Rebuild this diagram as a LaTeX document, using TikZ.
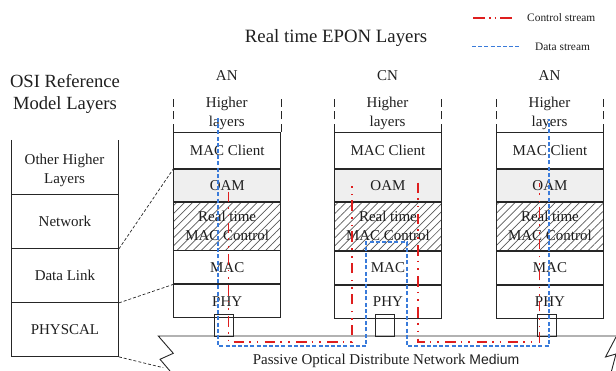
\documentclass[tikz,border=0pt]{standalone}
\usepackage{fontspec}
\setmainfont{Liberation Serif}
\newfontfamily\sansf{Liberation Sans}
\usetikzlibrary{patterns.meta}
\definecolor{ln}{HTML}{262626}
\definecolor{ctrl}{HTML}{DE1E1E}
\definecolor{datac}{HTML}{3A7BDA}
\definecolor{oamc}{HTML}{EFEFEF}
\tikzset{
  txt/.style={font=\fontsize{15}{19}\selectfont, text=black!88, align=center, inner sep=0pt},
  lay/.style={txt, draw=ln, line width=0.9pt, minimum width=107pt, anchor=north west},
  hatch/.style={pattern={Lines[angle=45,distance=5.7pt,line width=0.7pt]}, pattern color=black!65},
  hl/.style={draw=ln, line width=0.9pt, dash pattern=on 8pt off 4.5pt},
  link/.style={draw=ln, line width=0.7pt, dash pattern=on 3pt off 2pt},
  ctrlline/.style={draw=ctrl, line width=1.6pt, dash pattern=on 10.5pt off 5pt on 1.6pt off 6pt on 1.6pt off 6.5pt},
  dataline/.style={draw=datac, line width=1.8pt, dash pattern=on 4pt off 2.2pt},
  medium/.style={draw=ln, line width=0.9pt}
}
\newcommand\epstack[3]{%
  \node[lay, minimum height=36pt] (#1mc) at (#2,132) {MAC Client};
  \node[lay, minimum height=32pt, fill=oamc] (#1oam) at (#1mc.south west) {OAM};
  \node[lay, minimum height=48pt, hatch] (#1rt) at (#1oam.south west) {Real time\\MAC Control};
  \node[lay, minimum height=33pt] (#1mac) at (#1rt.south west) {MAC};
  \node[lay, minimum height=33pt] (#1phy) at (#1mac.south west) {PHY};
  \node[draw=ln, line width=0.9pt, minimum width=19pt, minimum height=22pt, inner sep=0pt, anchor=north west] (#1con) at ({#2+40.5},314) {};
  \node[txt] (#1hd) at ({#2+53.5},76) {#3};
  \node[txt] (#1hl) at ({#2+53.5},113) {Higher\\layers};
  \draw[hl] (#1mc.north west) -- ++(0,-34.5);
  \draw[hl] (#1mc.north east) -- ++(0,-34.5);
}
\begin{document}
\begin{tikzpicture}[x=1pt,y=-1pt]
\useasboundingbox (0,0) rectangle (616,371);
% titles
\node[txt, font=\fontsize{18.6}{22}\selectfont] (osititle) at (65,94) {OSI Reference\\Model Layers};
\node[txt, font=\fontsize{18.8}{22}\selectfont] (eptitle) at (336,38) {Real time EPON Layers};
% legend
\coordinate (lc1) at (473,18.3); \coordinate (lc2) at (515,18.3);
\coordinate (ld1) at (472,46.7); \coordinate (ld2) at (519,46.7);
\draw[ctrlline, dash pattern=on 12pt off 4pt on 1.6pt off 4pt on 1.6pt off 4pt] (lc1) -- (lc2);
\draw[dataline, line width=1.6pt] (ld1) -- (ld2);
\node[txt, font=\fontsize{11.4}{13}\selectfont, anchor=west] (lct) at (527,17.5) {Control stream};
\node[txt, font=\fontsize{11.4}{13}\selectfont, anchor=west] (ldt) at (535,46.5) {Data stream};
% OSI stack
\node[lay, draw=none, minimum height=54pt] (osioth) at (11,140) {};
\node[txt] (osiothT) at (64.5,170) {Other Higher\\Layers};
\node[lay, minimum height=54pt] (osinet) at (11,194) {Network};
\node[lay, minimum height=54pt] (osidl) at (11,248) {Data Link};
\node[lay, minimum height=54pt] (osiphy) at (11,302) {PHYSCAL};
\draw[draw=ln, line width=0.9pt] (osioth.north west) -- (osioth.south west) -- (osioth.south east) -- (osioth.north east);
% EPON stacks
\epstack{a}{173.3}{AN}
\epstack{c}{334}{CN}
\epstack{b}{496}{AN}
% OSI to EPON links
\coordinate (lk3) at (163.3,367.7);
\draw[link] (osinet.south east) -- (aoam.north west);
\draw[link] (osidl.south east) -- (aphy.north west);
\draw[link] (osiphy.south east) -- (lk3);
% medium
\draw[medium] (170,371) -- (160,359.3) -- (173.3,353.3) -- (158.3,336) -- (616,336);
\draw[medium] (616,337) -- (605.5,357) -- (616,354);
\draw[medium] (616,354) -- (611.5,371);
\node[txt] (medlbl) at (386,361) {Passive Optical Distribute Network {\sansf\fontsize{14}{16}\selectfont Medium}};
% streams
\draw[ctrlline] (228.3,191.7) -- (228.3,342.3) -- (351.7,342.3) -- (351.7,182.7);
\draw[ctrlline] (417.7,182.7) -- (417.7,342.3) -- (539.3,342.3) -- (539.3,183.3);
\draw[dataline] (218,118) -- (218,346) -- (366,346) -- (366,242) -- (407,242) -- (407,346) -- (549,346) -- (549,119);
\end{tikzpicture}
\end{document}
